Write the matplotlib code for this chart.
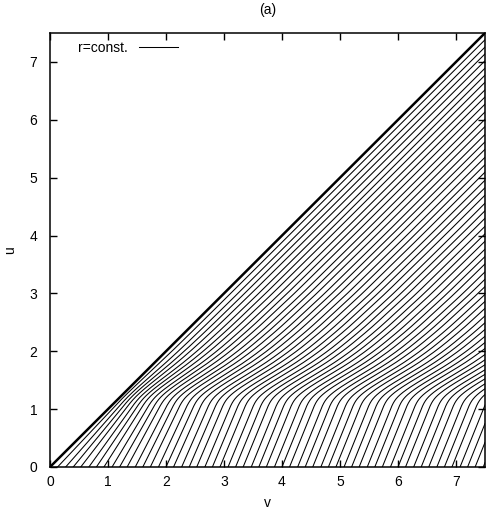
#!/usr/bin/env python3
"""Lines of constant r in the (v, u) plane, panel (a)."""

import numpy as np
import matplotlib
matplotlib.use('Agg')
import matplotlib.pyplot as plt

plt.rcParams.update({
    'font.family': ['Liberation Sans', 'DejaVu Sans'],
    'font.size': 10,
    'axes.linewidth': 1.1,
})

line_v0 = [
    0.13, 0.27, 0.40, 0.53, 0.67, 0.80, 0.93, 1.07, 1.20, 1.33,
    1.47, 1.60, 1.73, 1.87, 2.00, 2.13, 2.27, 2.40, 2.53, 2.67,
    2.80, 2.93, 3.07, 3.20, 3.33, 3.47, 3.60, 3.73, 3.87, 4.00,
    4.13, 4.27, 4.40, 4.53, 4.67, 4.80, 4.93, 5.07, 5.20, 5.33,
    5.47, 5.60, 5.73, 5.87, 6.00, 6.13, 6.27, 6.40, 6.53, 6.67,
    6.80, 6.93, 7.07, 7.20, 7.33, 7.47,
]

# How far a line far from the diagonal lags behind u=v+const, versus u
profile_u = [0.0, 0.6, 1.2, 1.4, 1.6, 1.8, 2.05, 2.4, 3.0, 4.0, 7.5]
profile_lag = [0.0, 0.36, 0.72, 0.64, 0.50, 0.37, 0.27, 0.20, 0.15, 0.13, 0.13]
# lines near the diagonal stay almost parallel to it
lag_scale = 1.3

# diagonal u = v (r = 0)
diag_v = [0.0, 7.5]
diag_u = [0.0, 7.5]


def smooth_lag(u, n=80, sigma=0.09):
    lag = np.interp(u, profile_u, profile_lag)
    du = u[1] - u[0]
    k = np.arange(-n, n + 1) * du
    w = np.exp(-0.5 * (k / sigma) ** 2)
    w /= w.sum()
    # odd reflection at u=0 keeps the start slope, flat at the far end
    pad = np.concatenate([2 * lag[0] - lag[n:0:-1], lag, np.full(n, lag[-1])])
    return np.convolve(pad, w, mode='same')[n:-n]


fig = plt.figure(figsize=(4.99, 5.15), dpi=100)
ax = fig.add_axes([50 / 499, 1 - 467 / 515, 435 / 499, 434 / 515])

u = np.linspace(0, 7.5, 1501)
lag = smooth_lag(u)
for i, v0 in enumerate(line_v0):
    v = u + v0 - lag * np.tanh(v0 / lag_scale)
    ax.plot(v, u, color='black', lw=0.75,
            label='r=const.' if i == 0 else None)

ax.plot(diag_v, diag_u, color='black', lw=1.8)

ax.set_xlim(0, 7.5)
ax.set_ylim(0, 7.5)
ax.set_xticks(range(8))
ax.set_yticks(range(8))
ax.tick_params(direction='in', top=True, right=True, length=5, width=1.0,
               labelsize=10)
ax.tick_params(axis='x', pad=6)
ax.tick_params(axis='y', pad=9)
ax.set_xlabel('v', labelpad=5)
ax.set_ylabel('u', labelpad=9)
ax.set_title('(a)', fontsize=10, pad=14)

ax.legend(loc='upper left', frameon=False, markerfirst=False,
          handlelength=2.8, borderaxespad=0.2, fontsize=10,
          bbox_to_anchor=(0.045, 1.0))

fig.savefig('out.png', dpi=100)
